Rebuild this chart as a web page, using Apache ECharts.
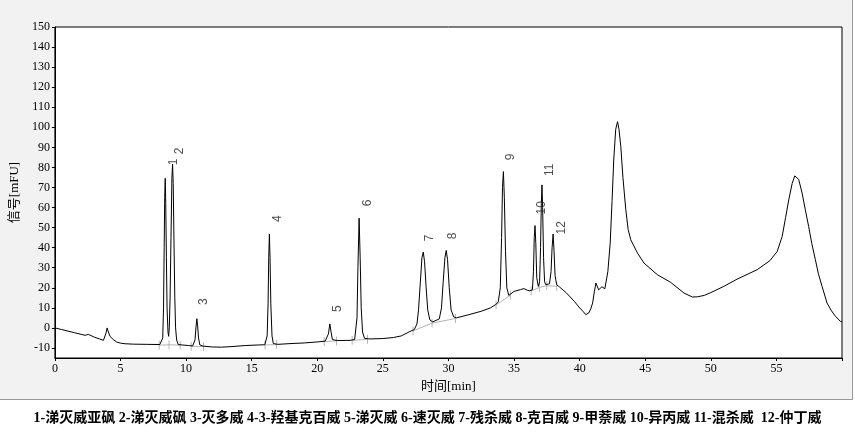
<!DOCTYPE html>
<html>
<head>
<meta charset="utf-8">
<script src="https://cdn.jsdelivr.net/npm/echarts@6/dist/echarts.min.js"></script>
<style>
  html, body { margin: 0; padding: 0; background: #ffffff; }
  #panel { position: absolute; left: 0; top: 0; width: 852px; height: 399px; background: #f2f2f2; border-right: 1px solid #9a9a9a; border-bottom: 1px solid #9a9a9a; }
  #chart { position: absolute; left: 0; top: 0; width: 855px; height: 438px; }
</style>
</head>
<body>
<div id="panel"></div>
<div id="chart"></div>
<script>
// Retention time (min) and signal (mFU) of the chromatogram trace
const times = [
  0,0.5,1.0,1.5,2.0,2.3,2.45,2.55,2.7,3.0,3.4,3.7,3.82,3.9,3.98,4.05,4.2,4.45,4.7,5.0,5.35,6.0,7.0,8.0,
  8.15,8.22,8.28,8.33,8.37,8.41,8.45,8.5,8.55,8.62,8.67,
  8.72,8.78,8.85,8.92,8.97,9.02,9.08,9.14,9.2,9.28,9.4,9.7,10.2,10.5,
  10.6,10.68,10.75,10.82,10.88,10.95,11.05,11.3,12.0,12.7,13.5,14.5,15.5,16.0,
  16.1,16.18,16.25,16.3,16.35,16.4,16.46,16.55,16.65,17.0,18.0,19.0,20.0,20.6,
  20.75,20.85,20.96,21.05,21.15,21.5,22.5,22.85,
  22.95,23.03,23.1,23.19,23.27,23.35,23.45,23.6,24.0,25.0,25.8,26.4,27.0,27.4,
  27.6,27.72,27.85,27.98,28.08,28.18,28.3,28.42,28.58,28.8,
  29.3,29.47,29.6,29.73,29.83,29.93,30.06,30.2,30.4,30.6,31.5,32.5,33.2,33.6,
  33.8,33.95,34.05,34.12,34.19,34.26,34.35,34.45,34.6,35.0,35.5,35.75,35.85,36.0,36.2,
  36.4,36.48,36.54,36.6,36.66,36.73,36.85,
  36.95,37.02,37.08,37.13,37.18,37.25,37.33,37.42,
  37.7,37.82,37.9,37.98,38.05,38.13,38.25,38.45,38.6,39.0,39.6,40.0,40.25,40.47,40.7,40.85,40.99,
  41.12,41.24,41.35,41.45,41.57,41.7,41.82,41.92,42.0,42.15,42.33,42.47,42.6,42.75,42.89,43.0,43.14,
  43.3,43.52,43.7,43.9,44.41,44.91,45.93,46.94,47.95,48.59,48.97,49.5,50.0,50.99,52.0,53.53,54.5,
  55.06,55.44,55.7,55.94,56.2,56.4,56.52,56.7,56.96,57.2,57.46,57.7,57.97,58.2,58.48,58.86,59.2,59.5,59.87,60
];
const signal = [
  0,-0.8,-1.6,-2.4,-3.2,-3.7,-3.4,-3.2,-4.0,-4.6,-5.5,-6.2,-5.5,-2.5,0,-1.5,-4.2,-5.8,-7.0,-7.6,-7.9,-8.1,-8.2,-8.3,
  -8.2,-5,10,40,65,74.6,62,35,10,-2,-4.2,
  0,15,45,75,81.7,72,42,15,0,-6,-8.3,-8.5,-8.8,-9.0,
  -8.9,-6,0,4.6,1,-5,-8.5,-9.1,-9.5,-9.6,-9.3,-8.8,-8.5,-8.4,
  -8.2,-4,12,35,46.8,35,12,-4,-7.8,-8.2,-7.8,-7.5,-7.0,-6.6,
  -6.4,-3,2.0,-2,-5.8,-6.3,-6.2,-5.8,
  -5,5,30,54.7,35,10,-2,-5.2,-5.5,-5.3,-4.8,-4.0,-2,-0.8,
  2,9,22,35,37.8,33,20,9,4,3.0,
  4.5,10,23,35,38.6,34,20,9,5.5,5.0,6.5,8.3,10,11.6,
  13,20,45,70,77.9,65,38,20,16.2,18.2,19.1,19.6,19,18.8,18.5,
  19,28,45,51,42,25,20.7,
  23,40,62,71.3,60,35,23,21.5,
  22,28,40,46.8,38,26,21.5,20.5,19.9,17.4,13.2,10,8.3,6.6,7.5,9.5,12.4,
  18,22.4,22.8,19,18.2,20.5,20.7,19.5,19.9,28,42.3,63,83.7,99,102.8,99,90.3,
  75,58.9,49,43.9,37.3,32.3,26.5,22.7,17.4,15.4,15.5,16.2,17.6,20.7,24.3,29.0,33.5,
  38.1,45.6,55,63.8,72,75.8,76.3,74,67.2,59,50.5,42,34.0,27,20.7,12.4,8.5,5.8,3.3,3.0
];

// Integration baselines (peak start/end points), one group per peak cluster
const baselineGroups = [
  [[7.95,-8.6],[8.7,-8.4],[9.55,-8.6]],
  [[10.39,-9.2],[11.33,-9.3]],
  [[16.02,-8.5],[16.9,-8.3]],
  [[20.53,-6.8],[21.47,-6.5]],
  [[22.66,-6.2],[23.83,-5.7]],
  [[27.3,-1.5],[28.75,2.4],[30.54,4.7]],
  [[33.63,11.4],[34.72,16.3]],
  [[36.3,18.4],[36.93,20.2],[37.49,21.0],[38.25,20.8]]
];

// Peak number labels and their anchor positions
const peakNames = ['1','2','3','4','5','6','7','8','9','10','11','12'];
const peakLabelTimes = [9.07,9.53,11.36,16.98,21.55,23.83,28.54,30.36,34.77,37.13,37.74,38.65];
const peakLabelValues = [82.7,88.2,13.1,54.4,9.6,62.3,44.9,45.9,85.2,59.9,78.8,49.9];

const yTicks = [-10,0,10,20,30,40,50,60,70,80,90,100,110,120,130,140,150];

const caption = '1-涕灭威亚砜 2-涕灭威砜 3-灭多威 4-3-羟基克百威 5-涕灭威 6-速灭威 7-残杀威 8-克百威 9-甲萘威 10-异丙威 11-混杀威  12-仲丁威';

const traceData = times.map((t, i) => [t, signal[i]]);
const baseData = [];
const tickData = [];
baselineGroups.forEach(g => {
  g.forEach(p => baseData.push(p));
  baseData.push([null, null]);
  g.forEach(p => { tickData.push([p[0], p[1] - 2.2]); tickData.push([p[0], p[1] + 2.2]); tickData.push([null, null]); });
});
const labelData = peakNames.map((n, i) => ({ name: n, value: [peakLabelTimes[i], peakLabelValues[i]] }));

const serif = '"Liberation Serif", "Times New Roman", serif';
const chart = echarts.init(document.getElementById('chart'), null, { renderer: 'canvas' });
chart.setOption({
  backgroundColor: 'transparent',
  animation: false,
  grid: { left: 53, right: 13, top: 27, bottom: 80, show: true, backgroundColor: '#ffffff', borderColor: '#000000', borderWidth: 1 },
  xAxis: {
    type: 'value', min: 0, max: 60, interval: 5,
    name: '时间[min]', nameLocation: 'middle', nameGap: 19,
    nameTextStyle: { fontFamily: serif + ', "Noto Sans CJK SC"', fontSize: 13, color: '#000' },
    axisLine: { show: true, onZero: false, lineStyle: { color: '#000', width: 1 } },
    axisTick: { show: true, inside: false, length: 3, lineStyle: { color: '#000' } },
    axisLabel: { fontFamily: serif, fontSize: 12, color: '#000', margin: 5,
      formatter: v => (v >= 60 ? '' : String(v)) },
    splitLine: { show: false }
  },
  yAxis: {
    type: 'value', min: -15, max: 150,
    name: '信号[mFU]', nameLocation: 'middle', nameGap: 30, nameRotate: 90,
    nameTextStyle: { fontFamily: serif + ', "Noto Sans CJK SC"', fontSize: 13, color: '#000' },
    axisLine: { show: true, onZero: false, lineStyle: { color: '#000', width: 1 } },
    axisTick: { show: true, length: 3, customValues: yTicks, lineStyle: { color: '#000' } },
    axisLabel: { fontFamily: serif, fontSize: 12, color: '#000', margin: 5, customValues: yTicks },
    splitLine: { show: false }
  },
  graphic: [{
    type: 'text', left: 'center', top: 411,
    style: { text: caption, font: 'bold 14px "Liberation Serif", "Noto Sans CJK SC", serif', fill: '#000' }
  }],
  series: [
    { type: 'line', data: baseData, showSymbol: false, connectNulls: false, lineStyle: { color: '#b4b4b4', width: 1 }, z: 1, silent: true },
    { type: 'line', data: tickData, showSymbol: false, connectNulls: false, lineStyle: { color: '#b4b4b4', width: 1 }, z: 1, silent: true },
    { type: 'line', data: traceData, showSymbol: false, lineStyle: { color: '#000', width: 1 }, z: 3, silent: true },
    { type: 'scatter', data: labelData, symbolSize: 0, z: 4, silent: true,
      label: { show: true, position: 'inside', rotate: 90, formatter: p => p.name, fontFamily: '"Liberation Sans", Arial, sans-serif', fontSize: 12, color: '#222' } }
  ]
});
</script>
</body>
</html>
